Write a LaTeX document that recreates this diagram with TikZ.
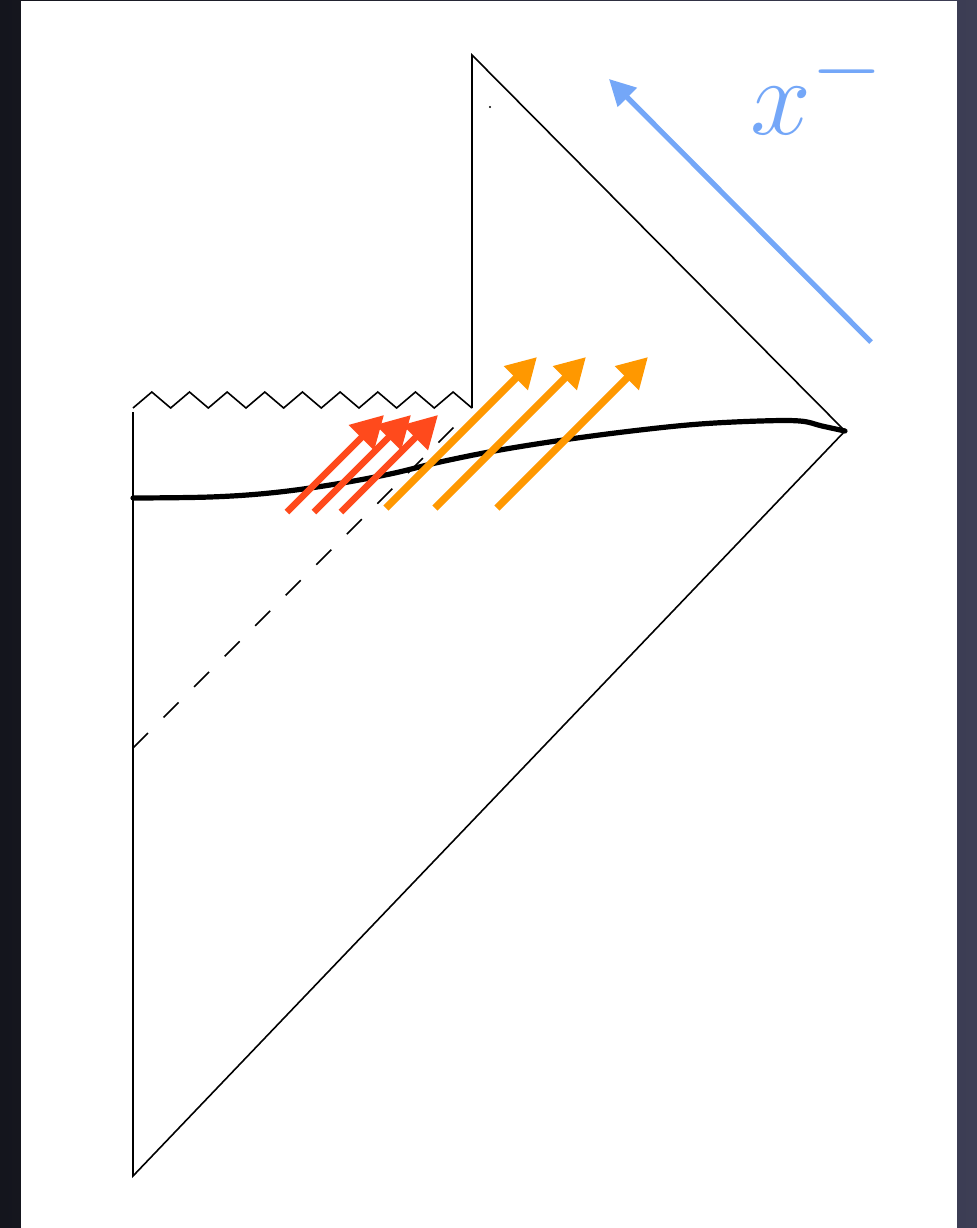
\documentclass[tikz,border=0pt]{standalone}
\usepackage{xcolor}
\usepackage{tikz}
\usetikzlibrary{arrows.meta}
\definecolor{skyleft}{HTML}{14151D}
\definecolor{skyright}{HTML}{3D3E55}
\definecolor{infallred}{HTML}{FF4A1C}
\definecolor{infallorange}{HTML}{FF9800}
\definecolor{nullblue}{HTML}{74A7F8}

\tikzset{
  edge/.style={line width=0.8pt},
  worldline/.style={line width=2.6pt, line cap=round},
  redarrow/.style={infallred, line width=3.3pt, -{Triangle[length=16pt,width=17pt]}},
  orangearrow/.style={infallorange, line width=3.7pt, -{Triangle[length=15pt,width=16pt]}},
  bluearrow/.style={nullblue, line width=2.6pt, -{Triangle[length=13pt,width=13pt]}}
}

\begin{document}
\begin{tikzpicture}[x=0.5pt,y=-0.5pt]
  \useasboundingbox (0,0) rectangle (977,1228);
  \shade[left color=skyleft, right color=skyright] (0,0) rectangle (977,1228);
  \fill[white] (21,1) rectangle (957,1228);

  % corners of the diagram
  \coordinate (origin) at (133,1176);
  \coordinate (scri) at (845,431);
  \coordinate (top) at (472,55);
  \coordinate (notch) at (472,408);
  \coordinate (sing) at (133,408);
  \coordinate (wall) at (133,412);
  \coordinate (horizon) at (133,748);
  \coordinate (horizonend) at (458,423);

  \draw[edge] (wall) -- (origin) -- (scri) -- (top) -- (notch);
  \draw[edge] (sing) \foreach \k in {1,...,9} {-- ++(18.83,-16) -- ++(18.83,16)};
  \draw[edge, dash pattern=on 10.6pt off 11pt] (horizon) -- (horizonend);
  \fill (490,107) circle (0.6pt);

  % the shell
  \draw[worldline] plot[smooth, tension=0.6] coordinates {(133,498) (210,497) (270,493)
    (330,485) (390,474) (440,462) (500,450) (570,439) (640,430) (700,424) (760,421)
    (800,421) (822,426) (845,431)};

  % infalling quanta
  \foreach \t in {287,314,341}
    \draw[redarrow] (\t,512) -- ++(97,-97);
  \foreach \t in {386,435,497}
    \draw[orangearrow] (\t,508) -- ++(151,-151);

  \draw[bluearrow] (871,342) -- (609,79);
  \node[text=nullblue, anchor=base west, inner sep=0pt]
    (xminus) at (750,134) {\scalebox{2.2}{\Huge$x^-$}};
\end{tikzpicture}
\end{document}
